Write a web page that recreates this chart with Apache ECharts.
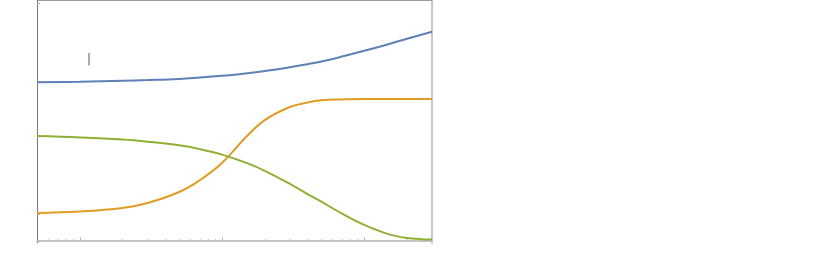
<!DOCTYPE html>
<html>
<head>
<meta charset="utf-8">
<script src="https://cdn.jsdelivr.net/npm/echarts@6/dist/echarts.min.js"></script>
<style>html,body{margin:0;padding:0;background:#fff;}#c{width:830px;height:272px;}</style>
</head>
<body>
<div id="c"></div>
<script>
const xValues = [5, 10, 20, 30, 50, 70, 100, 150, 200, 300, 400, 500, 700, 1000, 1500, 2000, 3000];
const blueValues = [0.667, 0.669, 0.673, 0.676, 0.681, 0.687, 0.694, 0.705, 0.714, 0.730, 0.743, 0.754, 0.775, 0.799, 0.828, 0.850, 0.879];
const orangeValues = [0.118, 0.124, 0.139, 0.160, 0.206, 0.256, 0.328, 0.441, 0.508, 0.563, 0.582, 0.591, 0.595, 0.597, 0.597, 0.597, 0.597];
const greenValues = [0.441, 0.435, 0.426, 0.417, 0.402, 0.386, 0.363, 0.327, 0.295, 0.240, 0.197, 0.165, 0.115, 0.068, 0.028, 0.013, 0.006];
const xMajorTicks = [10, 100, 1000];
const xMinorTicks = [6, 7, 8, 9, 20, 30, 40, 50, 60, 70, 80, 90, 200, 300, 400, 500, 600, 700, 800, 900, 2000];
const yTicks = [0, 0.113, 0.445, 1];
const markText = '|';

const X_MIN = 5, X_MAX = 3000, Y_MIN = -0.0084, Y_MAX = 1.0126;

function pairs(vals) { return xValues.map((x, i) => [x, vals[i]]); }

const chart = echarts.init(document.getElementById('c'), null, {renderer: 'canvas'});
const hiddenLabel = {show: false};
chart.setOption({
  animation: false,
  backgroundColor: '#ffffff',
  grid: {left: 37, top: 0, width: 395, height: 243, containLabel: false},
  xAxis: [
    {type: 'log', logBase: 10, min: X_MIN, max: X_MAX, position: 'bottom',
     axisLine: {show: true, lineStyle: {color: '#c6c6c6', width: 2}},
     axisTick: {show: true, inside: true, length: 4, customValues: xMajorTicks, lineStyle: {color: '#bdbdbd', width: 1}},
     axisLabel: hiddenLabel, splitLine: {show: false}, minorTick: {show: false}},
    {type: 'log', logBase: 10, min: X_MIN, max: X_MAX, position: 'bottom',
     axisLine: {show: false},
     axisTick: {show: true, inside: true, length: 2, customValues: xMinorTicks, lineStyle: {color: '#c6c6c6', width: 1}},
     axisLabel: hiddenLabel, splitLine: {show: false}},
    {type: 'log', logBase: 10, min: X_MIN, max: X_MAX, position: 'top',
     axisLine: {show: true, lineStyle: {color: '#9a9a9a', width: 1}},
     axisTick: {show: false}, axisLabel: hiddenLabel, splitLine: {show: false}}
  ],
  yAxis: [
    {type: 'value', min: Y_MIN, max: Y_MAX, position: 'left',
     axisLine: {show: true, lineStyle: {color: '#7a7a7a', width: 1}},
     axisTick: {show: true, inside: true, length: 3, customValues: yTicks, lineStyle: {color: '#aaaaaa'}},
     axisLabel: hiddenLabel, splitLine: {show: false}},
    {type: 'value', min: Y_MIN, max: Y_MAX, position: 'right',
     axisLine: {show: true, lineStyle: {color: '#c6c6c6', width: 2}},
     axisTick: {show: false}, axisLabel: hiddenLabel, splitLine: {show: false}}
  ],
  series: [
    {type: 'line', data: pairs(blueValues), smooth: 0.4, showSymbol: false, lineStyle: {color: '#5e81b5', width: 2}},
    {type: 'line', data: pairs(orangeValues), smooth: 0.4, showSymbol: false, lineStyle: {color: '#e19c24', width: 2}},
    {type: 'line', data: pairs(greenValues), smooth: 0.4, showSymbol: false, lineStyle: {color: '#8fb032', width: 2}}
  ],
  graphic: [
    {type: 'text', left: 87, top: 54, style: {text: markText, fontSize: 12, fontFamily: 'DejaVu Sans', fill: '#555555'}}
  ]
});
</script>
</body>
</html>
